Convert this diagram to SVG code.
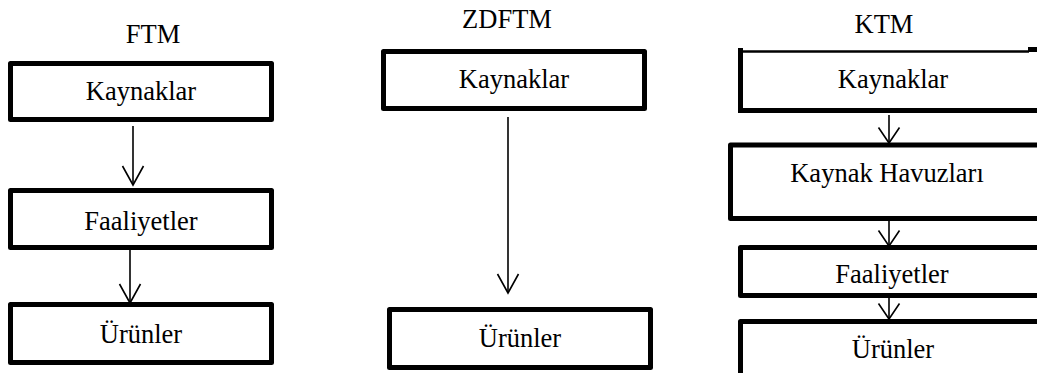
<svg xmlns="http://www.w3.org/2000/svg" width="1037" height="373" viewBox="0 0 1037 373">
<style>
.box{fill:#fff;stroke:#000;stroke-width:5;stroke-linejoin:round}
text{font-family:'Liberation Serif','Times New Roman',serif;font-size:26.5px;fill:#000;text-anchor:middle}
.c{stroke:#000;stroke-width:1.6;fill:none}
</style>
<defs>
<marker id="ah" markerUnits="userSpaceOnUse" markerWidth="22" markerHeight="24" refX="20" refY="12" orient="auto" viewBox="0 0 22 24">
<path d="M1,1.5 L20,12 L1,22.5" fill="none" stroke="#000" stroke-width="1.6"/>
</marker>
<marker id="ahs" markerUnits="userSpaceOnUse" markerWidth="18" markerHeight="24" refX="16.5" refY="12" orient="auto" viewBox="0 0 18 24">
<path d="M1,1.5 L16.5,12 L1,22.5" fill="none" stroke="#000" stroke-width="1.6"/>
</marker>
</defs>
<rect width="1037" height="373" fill="#fff"/>
<g id="titles">
<text x="153" y="43">FTM</text>
<text x="507" y="28">ZDFTM</text>
<text x="884" y="33">KTM</text>
</g>
<g id="ftm-kaynaklar"><rect class="box" x="10.5" y="63.5" width="261" height="56"/><text x="141" y="100">Kaynaklar</text></g>
<g id="ftm-faaliyetler"><rect class="box" x="10.5" y="190.5" width="261" height="57"/><text x="141" y="230">Faaliyetler</text></g>
<g id="ftm-urunler"><rect class="box" x="10.5" y="304.5" width="261" height="58"/><text x="141" y="343">Ürünler</text></g>
<g id="zdftm-kaynaklar"><rect class="box" x="383.5" y="51.5" width="261" height="57"/><text x="514" y="88">Kaynaklar</text></g>
<g id="zdftm-urunler"><rect class="box" x="389.5" y="309.5" width="261" height="58"/><text x="520" y="347">Ürünler</text></g>
<g id="ktm-kaynaklar">
<rect x="740" y="52" width="300" height="58" fill="#fff"/>
<line x1="738" y1="51.5" x2="1029" y2="51.5" stroke="#000" stroke-width="2.5"/>
<rect x="1028" y="47" width="9" height="5" fill="#000"/>
<line x1="740.5" y1="48" x2="740.5" y2="113" stroke="#000" stroke-width="5"/>
<line x1="738" y1="110.5" x2="1037" y2="110.5" stroke="#000" stroke-width="5"/>
<text x="893" y="88">Kaynaklar</text>
</g>
<g id="ktm-havuzlari"><rect class="box" x="730.5" y="145" width="400" height="73.5"/><text x="887" y="182">Kaynak Havuzları</text></g>
<g id="ktm-faaliyetler"><rect class="box" x="740.5" y="247.5" width="400" height="48"/><text x="892" y="283">Faaliyetler</text></g>
<g id="ktm-urunler"><rect class="box" x="740.5" y="321.5" width="400" height="100"/><text x="893" y="358">Ürünler</text></g>
<g id="connectors">
<line class="c" x1="133" y1="126" x2="133" y2="185" marker-end="url(#ah)"/>
<line class="c" x1="130" y1="250" x2="130" y2="303" marker-end="url(#ah)"/>
<line class="c" x1="508" y1="117" x2="508" y2="293" marker-end="url(#ah)"/>
<line class="c" x1="889" y1="115" x2="889" y2="143" marker-end="url(#ahs)"/>
<line class="c" x1="889" y1="221" x2="889" y2="246" marker-end="url(#ahs)"/>
<line class="c" x1="889" y1="298" x2="889" y2="319" marker-end="url(#ahs)"/>
</g>
</svg>
